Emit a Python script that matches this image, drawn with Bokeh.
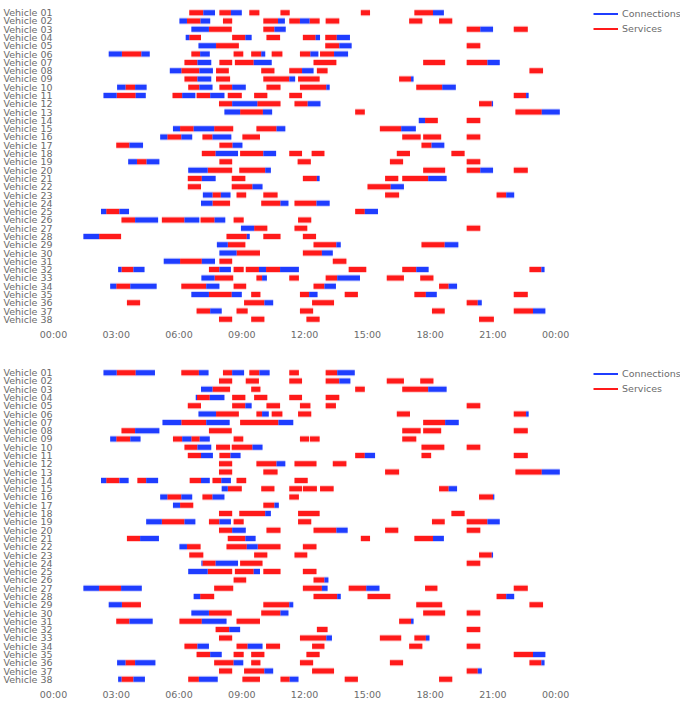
from bokeh.plotting import figure
from bokeh.models import Range1d, FactorRange, FixedTicker, Legend, LegendItem, ColumnDataSource
from bokeh.layouts import column
from bokeh.embed import file_html
from bokeh.resources import INLINE

vehicles = ["Vehicle %02d" % i for i in range(1, 39)]
hour_ticks = [0, 3, 6, 9, 12, 15, 18, 21, 24]
hour_labels = ["00:00", "03:00", "06:00", "09:00", "12:00", "15:00", "18:00", "21:00", "00:00"]
series_names = {"C": "Connections", "S": "Services"}
series_colors = {"C": "#1f3dff", "S": "#ff1a1a"}

# ---- top chart: chains of (time, kind, time, kind, time ...) in hours; S = service, C = connection
t01 = [(6.49, "S", 7.16, "C", 7.72), (7.93, "S", 8.48, "C", 9.00), (9.36, "S", 9.84), (10.85, "S", 11.29), (14.69, "S", 15.13), (17.25, "S", 18.14, "C", 18.66)]
t02 = [(6.02, "C", 6.38, "S", 7.03, "C", 7.49), (8.10, "S", 8.54), (10.03, "S", 10.73, "C", 11.06), (11.27, "S", 11.78, "C", 12.24, "S", 12.72), (13.01, "S", 13.66), (17.00, "S", 17.63), (18.43, "S", 19.06)]
t03 = [(6.59, "C", 7.43, "S", 8.52), (10.03, "S", 10.56, "C", 11.10), (19.75, "S", 20.40, "C", 21.01), (22.00, "S", 22.67)]
t04 = [(6.32, "C", 6.49, "S", 7.05), (8.54, "S", 9.17, "C", 9.47), (10.18, "S", 10.83), (11.92, "S", 12.53, "C", 12.74), (12.99, "S", 13.54, "C", 14.17)]
t05 = [(6.93, "C", 7.77, "S", 8.86), (12.99, "S", 13.66, "C", 14.25), (19.75, "S", 20.40)]
t06 = [(2.64, "C", 3.27, "S", 4.20, "C", 4.60), (6.59, "S", 7.01, "C", 7.47), (8.61, "S", 9.07), (9.45, "S", 9.93, "C", 10.12), (10.43, "S", 10.94), (11.78, "S", 12.28, "C", 12.66), (12.74, "S", 13.41, "C", 14.08)]
t07 = [(6.26, "S", 6.88, "C", 7.54), (7.93, "S", 8.54), (8.67, "S", 9.57, "C", 10.43), (12.43, "S", 13.52), (17.67, "S", 18.72), (19.75, "S", 20.74, "C", 21.33)]
t08 = [(5.56, "C", 6.11, "S", 6.97, "C", 7.62), (7.77, "S", 8.38), (9.93, "S", 10.56), (11.27, "S", 11.88, "C", 12.43), (12.59, "S", 13.10), (22.75, "S", 23.40)]
t09 = [(6.26, "S", 6.88, "C", 7.54), (7.77, "S", 8.44), (10.03, "S", 11.27, "C", 11.55), (11.69, "S", 12.72), (16.52, "S", 17.09, "C", 17.21)]
t10 = [(3.04, "C", 3.44, "S", 3.90, "C", 4.45), (6.44, "S", 6.97, "C", 7.60), (7.93, "S", 8.54, "C", 9.19), (10.18, "S", 10.85), (11.78, "S", 13.04, "C", 13.20), (17.34, "S", 18.58, "C", 19.23)]
t11 = [(2.39, "C", 3.02, "S", 3.93, "C", 4.41), (5.69, "S", 6.15, "C", 6.78), (6.84, "S", 7.49, "C", 8.17), (8.33, "S", 9.00), (9.59, "S", 10.22), (11.27, "S", 11.88), (22.00, "S", 22.59, "C", 22.71)]
t12 = [(7.91, "S", 8.54, "C", 9.74, "S", 10.85), (11.52, "S", 12.15, "C", 12.76), (20.34, "S", 20.95, "C", 21.01)]
t13 = [(8.17, "C", 8.92, "S", 10.01, "C", 10.45), (14.42, "S", 14.88), (22.08, "S", 23.34, "C", 24.20)]
t14 = [(17.46, "C", 17.76, "S", 18.37), (19.75, "S", 20.40)]
t15 = [(5.71, "C", 6.05, "S", 6.70, "C", 7.68, "S", 8.59), (9.70, "S", 10.66, "C", 11.08), (15.60, "S", 16.62, "C", 17.32)]
t16 = [(5.10, "C", 5.44, "S", 6.11, "C", 6.63), (7.12, "S", 7.60, "C", 8.50), (9.03, "S", 9.87), (16.67, "S", 17.55), (17.67, "S", 18.53), (19.75, "S", 20.40)]
t17 = [(3.00, "S", 3.63, "C", 4.28), (7.93, "S", 8.56, "C", 9.03), (17.59, "S", 18.07, "C", 18.68)]
t18 = [(7.09, "S", 7.75, "C", 8.82), (8.92, "S", 10.03, "C", 10.64), (11.27, "S", 11.88), (12.34, "S", 12.95), (16.41, "S", 17.04), (19.02, "S", 19.65)]
t19 = [(3.57, "C", 3.99, "S", 4.45, "C", 5.06), (7.93, "S", 8.54), (11.67, "S", 12.30), (16.08, "S", 16.71), (19.75, "S", 20.40)]
t20 = [(6.44, "C", 7.37, "S", 8.54), (8.88, "S", 10.12, "C", 10.39), (17.67, "S", 18.72), (19.75, "S", 20.40, "C", 21.01), (22.00, "S", 22.67)]
t21 = [(6.42, "S", 7.09, "C", 7.75), (8.52, "S", 9.17), (11.92, "S", 12.59, "C", 12.72), (15.85, "S", 16.48), (16.67, "S", 17.91, "C", 18.79)]
t22 = [(6.42, "S", 7.05), (8.52, "S", 9.51, "C", 9.99), (15.01, "S", 16.12, "C", 16.75)]
t23 = [(7.14, "C", 7.60, "S", 8.00, "C", 8.46), (8.75, "S", 9.21), (10.03, "S", 10.71), (15.85, "S", 16.52), (21.18, "S", 21.64, "C", 22.02)]
t24 = [(7.05, "C", 7.60, "S", 8.44), (9.93, "S", 10.85, "C", 11.23), (11.52, "S", 12.57, "C", 13.20)]
t25 = [(2.27, "C", 2.52, "S", 3.15, "C", 3.61), (14.42, "S", 14.88, "C", 15.51)]
t26 = [(3.25, "S", 3.90, "C", 5.00), (5.18, "S", 6.26, "C", 6.97), (7.03, "S", 7.70, "C", 8.21), (8.61, "S", 9.09), (11.69, "S", 12.32)]
t27 = [(8.96, "C", 9.59, "S", 10.22), (11.52, "S", 12.13), (19.75, "S", 20.40)]
t28 = [(1.43, "C", 2.18, "S", 3.23), (8.27, "S", 9.24, "C", 9.38), (10.03, "S", 10.85), (11.92, "S", 12.55)]
t29 = [(7.81, "C", 8.33, "S", 9.17), (12.43, "S", 13.52, "C", 13.73), (17.59, "S", 18.70, "C", 19.35)]
t30 = [(7.93, "C", 8.75, "S", 9.87), (11.92, "S", 12.83, "C", 13.35)]
t31 = [(5.27, "C", 6.05, "S", 7.09, "C", 7.72), (7.93, "S", 8.54), (13.35, "S", 14.00)]
t32 = [(3.09, "C", 3.25, "S", 3.82, "C", 4.35), (7.43, "S", 7.93, "C", 8.48), (8.61, "S", 9.09), (9.19, "S", 9.82, "C", 10.16, "S", 10.83, "C", 11.73), (14.11, "S", 14.95), (16.67, "S", 17.34, "C", 17.93), (22.75, "S", 23.32, "C", 23.47)]
t33 = [(7.07, "C", 7.70, "S", 8.59), (9.70, "S", 9.97, "C", 10.20), (11.27, "S", 11.73), (13.01, "S", 13.56, "C", 14.65), (15.93, "S", 16.75), (17.53, "S", 18.16)]
t34 = [(2.71, "C", 3.00, "S", 3.67, "C", 4.93), (6.11, "S", 7.30, "C", 7.93), (8.61, "S", 9.21), (12.43, "S", 12.95, "C", 13.50), (18.43, "S", 18.89, "C", 19.29)]
t35 = [(6.59, "C", 7.43, "S", 8.52, "C", 9.00), (9.45, "S", 9.89), (11.78, "S", 12.22, "C", 12.62), (13.92, "S", 14.55), (17.25, "S", 17.80, "C", 18.32), (22.00, "S", 22.67)]
t36 = [(3.51, "S", 4.14), (9.11, "S", 10.08, "C", 10.50), (12.36, "S", 13.41), (19.75, "S", 20.28, "C", 20.47)]
t37 = [(6.84, "S", 7.49, "C", 8.04), (8.75, "S", 9.28), (11.78, "S", 12.41), (18.09, "S", 18.70), (22.00, "S", 22.92, "C", 23.51)]
t38 = [(7.91, "S", 8.54), (9.45, "S", 10.08), (12.09, "S", 12.72), (20.34, "S", 21.05)]

# ---- bottom chart
b01 = [(2.39, "C", 3.02, "S", 3.93, "C", 4.85), (6.11, "S", 6.95, "C", 7.41), (8.10, "S", 8.54, "C", 9.11), (9.36, "S", 9.84, "C", 10.33), (11.27, "S", 11.73), (13.01, "S", 13.56, "C", 14.40)]
b02 = [(7.91, "S", 8.54), (9.19, "S", 9.82), (11.27, "S", 11.88), (13.01, "S", 13.66, "C", 14.19), (15.93, "S", 16.75), (17.53, "S", 18.16)]
b03 = [(7.05, "C", 7.60, "S", 8.44), (9.45, "S", 9.89), (14.42, "S", 14.88), (16.67, "S", 17.91, "C", 18.79)]
b04 = [(6.80, "C", 6.86, "S", 7.47, "C", 8.17), (8.54, "S", 9.17), (9.59, "S", 10.22), (11.27, "S", 11.88), (13.01, "S", 13.66)]
b05 = [(6.42, "S", 7.05), (8.54, "S", 9.17, "C", 9.47), (10.18, "S", 10.83), (11.78, "S", 12.28), (13.01, "S", 13.50), (19.75, "S", 20.40)]
b06 = [(6.93, "C", 7.77, "S", 8.86), (9.70, "S", 9.97, "C", 10.29), (10.43, "S", 10.94), (11.69, "S", 12.32), (16.41, "S", 17.04), (22.00, "S", 22.59, "C", 22.71)]
b07 = [(5.21, "C", 6.11, "S", 7.30, "C", 8.42), (8.92, "S", 10.75, "C", 11.46), (17.67, "S", 18.72, "C", 19.37)]
b08 = [(3.25, "S", 3.90, "C", 5.06), (7.43, "S", 8.52), (16.67, "S", 17.55), (17.67, "S", 18.53), (22.00, "S", 22.67)]
b09 = [(2.71, "C", 3.00, "S", 3.67, "C", 4.16), (5.71, "S", 6.15, "C", 6.59, "S", 6.99, "C", 7.47), (8.61, "S", 9.07), (11.78, "S", 12.22), (12.26, "S", 12.72), (16.67, "S", 17.34)]
b10 = [(6.26, "S", 6.88, "C", 7.54), (7.77, "S", 8.44), (8.52, "S", 9.51, "C", 9.99), (17.59, "S", 18.68), (19.75, "S", 20.40)]
b11 = [(6.42, "S", 7.05, "C", 7.62), (7.93, "S", 8.46, "C", 8.94), (14.42, "S", 14.88, "C", 15.37), (17.59, "S", 18.05), (22.00, "S", 22.67)]
b12 = [(7.91, "S", 8.54), (9.70, "S", 10.66, "C", 11.08), (11.52, "S", 12.57), (13.35, "S", 14.00)]
b13 = [(7.91, "S", 8.54), (10.03, "S", 10.71), (15.85, "S", 16.52), (22.08, "S", 23.34, "C", 24.20)]
b14 = [(2.27, "C", 2.52, "S", 3.15, "C", 3.59), (4.01, "S", 4.43, "C", 5.00), (6.51, "S", 7.05, "C", 7.47), (7.60, "S", 8.02, "C", 8.48), (8.75, "S", 9.21), (11.52, "S", 12.15)]
b15 = [(8.04, "C", 8.33, "S", 9.00), (9.93, "S", 10.56), (11.27, "S", 11.88), (11.92, "S", 12.59), (12.74, "S", 13.39), (18.43, "S", 18.89, "C", 19.29)]
b16 = [(5.10, "C", 5.44, "S", 6.11, "C", 6.63), (7.12, "S", 7.60, "C", 8.17), (11.27, "S", 11.73), (20.34, "S", 21.01, "C", 21.07)]
b17 = [(5.71, "C", 6.05, "S", 6.68), (10.03, "S", 10.56, "C", 10.77)]
b18 = [(7.91, "S", 8.54), (8.88, "S", 10.12, "C", 10.39), (11.69, "S", 12.72), (19.02, "S", 19.65)]
b19 = [(4.43, "C", 5.18, "S", 6.26, "C", 6.78), (7.43, "S", 7.93, "C", 8.48), (8.61, "S", 9.09), (11.69, "S", 12.32), (18.09, "S", 18.70), (19.75, "S", 20.74, "C", 21.33)]
b20 = [(7.91, "S", 8.54, "C", 9.19), (10.18, "S", 10.85), (12.43, "S", 13.52, "C", 14.06), (15.85, "S", 16.48), (19.75, "S", 20.40)]
b21 = [(3.51, "S", 4.14, "C", 5.04), (8.33, "S", 9.17, "C", 9.66), (14.69, "S", 15.13), (17.25, "S", 18.14, "C", 18.66)]
b22 = [(6.02, "C", 6.38, "S", 7.03), (8.27, "S", 9.24, "C", 9.76, "S", 10.85), (11.92, "S", 12.57)]
b23 = [(6.49, "S", 7.16), (9.59, "S", 10.22), (11.52, "S", 12.13), (20.34, "S", 20.95, "C", 21.01)]
b24 = [(7.07, "C", 7.12, "S", 7.75, "C", 8.82), (8.92, "S", 9.99), (19.75, "S", 20.40)]
b25 = [(6.44, "C", 7.37, "S", 8.54), (8.67, "S", 9.57, "C", 9.87), (10.03, "S", 10.85), (11.92, "S", 12.57)]
b26 = [(8.61, "S", 9.21), (12.43, "S", 12.95, "C", 13.14)]
b27 = [(1.43, "C", 2.18, "S", 3.23, "C", 4.22), (7.68, "S", 8.59), (11.92, "S", 12.83, "C", 13.10), (14.11, "S", 14.95, "C", 15.58), (17.76, "S", 18.35), (22.00, "S", 22.67)]
b28 = [(6.70, "C", 7.01, "S", 7.68), (12.43, "S", 13.56, "C", 13.73), (15.01, "S", 16.10), (21.18, "S", 21.64, "C", 22.02)]
b29 = [(2.64, "C", 3.27, "S", 4.18), (10.03, "S", 11.27, "C", 11.46), (17.34, "S", 18.58), (22.75, "S", 23.40)]
b30 = [(6.59, "C", 7.43, "S", 8.52), (9.93, "S", 10.85, "C", 11.23), (17.67, "S", 18.72), (19.75, "S", 20.40)]
b31 = [(3.00, "S", 3.63, "C", 4.74), (6.02, "S", 7.09, "C", 8.27), (8.75, "S", 9.87), (16.52, "S", 17.09, "C", 17.21)]
b32 = [(7.75, "S", 8.40, "C", 8.92), (12.59, "S", 13.10), (19.75, "S", 20.40)]
b33 = [(7.91, "S", 8.54), (11.78, "S", 13.04, "C", 13.31), (15.60, "S", 16.62), (17.25, "S", 17.80, "C", 17.97)]
b34 = [(6.26, "S", 6.88, "C", 7.43), (8.75, "S", 9.28, "C", 9.99), (10.16, "S", 10.83), (12.36, "S", 12.95), (17.00, "S", 17.63), (19.75, "S", 20.40)]
b35 = [(6.84, "S", 7.49, "C", 8.04), (8.61, "S", 9.09), (9.45, "S", 10.08), (12.09, "S", 12.72), (22.00, "S", 22.92, "C", 23.51)]
b36 = [(3.04, "C", 3.44, "S", 3.90, "C", 4.87), (7.68, "S", 8.61, "C", 9.07), (9.45, "S", 9.89), (11.78, "S", 12.41), (16.08, "S", 16.71), (22.75, "S", 23.32, "C", 23.47)]
b37 = [(7.91, "S", 8.54), (9.11, "S", 10.08, "C", 10.50), (12.36, "S", 13.41), (19.75, "S", 20.28, "C", 20.47)]
b38 = [(3.09, "C", 3.25, "S", 3.82, "C", 4.37), (6.44, "S", 6.95, "C", 7.85), (9.03, "S", 9.87), (10.85, "S", 11.29, "C", 11.71), (13.92, "S", 14.55), (18.43, "S", 19.06)]

top_rows = [t01, t02, t03, t04, t05, t06, t07, t08, t09, t10, t11, t12, t13, t14, t15, t16, t17, t18, t19,
            t20, t21, t22, t23, t24, t25, t26, t27, t28, t29, t30, t31, t32, t33, t34, t35, t36, t37, t38]
bottom_rows = [b01, b02, b03, b04, b05, b06, b07, b08, b09, b10, b11, b12, b13, b14, b15, b16, b17, b18, b19,
               b20, b21, b22, b23, b24, b25, b26, b27, b28, b29, b30, b31, b32, b33, b34, b35, b36, b37, b38]

FONT = "DejaVu Sans"
TEXT_COLOR = "#6b6b6b"
FONT_SIZE = "9.5px"


def to_sources(rows):
    cols = {k: dict(x0=[], x1=[], y=[]) for k in ("S", "C")}
    for name, chains in zip(vehicles, rows):
        for ch in chains:
            for i in range(0, len(ch) - 2, 2):
                t0, kind, t1 = ch[i], ch[i + 1], ch[i + 2]
                cols[kind]["x0"].append(t0)
                cols[kind]["x1"].append(t1)
                cols[kind]["y"].append(name)
    return {k: ColumnDataSource(v) for k, v in cols.items()}


def make_fig(rows, border_top, border_bottom):
    p = figure(frame_width=627, frame_height=315,
               x_range=Range1d(0, 29.97),
               y_range=FactorRange(factors=list(reversed(vehicles))),
               output_backend="svg", toolbar_location=None,
               min_border_left=0, min_border_right=0,
               min_border_top=border_top, min_border_bottom=border_bottom)
    p.outline_line_color = None
    p.grid.visible = False
    p.background_fill_color = "white"
    for ax in (p.xaxis[0], p.yaxis[0]):
        ax.axis_line_color = None
        ax.major_tick_line_color = None
        ax.minor_tick_line_color = None
        ax.major_tick_out = 0
        ax.major_tick_in = 0
        ax.minor_tick_out = 0
        ax.major_label_text_font = FONT
        ax.major_label_text_font_size = FONT_SIZE
        ax.major_label_text_color = TEXT_COLOR
    p.xaxis.ticker = FixedTicker(ticks=hour_ticks)
    p.xaxis.major_label_overrides = dict(zip(hour_ticks, hour_labels))
    p.xaxis.major_label_standoff = 5
    p.yaxis.major_label_standoff = 1

    srcs = to_sources(rows)
    for k in ("S", "C"):
        p.segment(x0="x0", y0="y", x1="x1", y1="y", source=srcs[k],
                  line_color=series_colors[k], line_width=7, line_alpha=0.22)
    for k in ("S", "C"):
        p.segment(x0="x0", y0="y", x1="x1", y1="y", source=srcs[k],
                  line_color=series_colors[k], line_width=5)

    # legend swatches: thin lines kept outside the visible x range
    items = []
    for k in ("C", "S"):
        r = p.line(x=[-3, -2], y=[vehicles[0], vehicles[0]], line_color=series_colors[k], line_width=2)
        items.append(LegendItem(label=series_names[k], renderers=[r]))
    legend = Legend(items=items, location=(540, 289), padding=0, margin=0, spacing=4,
                    glyph_width=25, glyph_height=11, label_height=11, label_standoff=4,
                    border_line_color=None, background_fill_alpha=0,
                    label_text_font=FONT, label_text_font_size=FONT_SIZE, label_text_color=TEXT_COLOR)
    p.add_layout(legend)
    return p


p1 = make_fig(top_rows, 8, 2)
p2 = make_fig(bottom_rows, 26, 0)
layout = column(p1, p2, spacing=0)

open("out.html", "w").write(file_html(layout, INLINE))
